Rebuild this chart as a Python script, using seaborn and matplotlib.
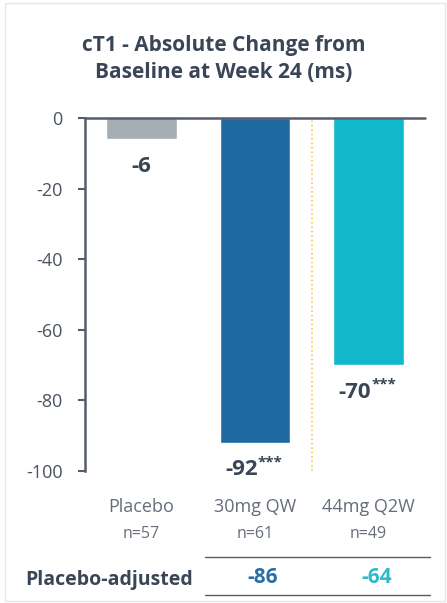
import numpy as np
import pandas as pd
import matplotlib
matplotlib.use('Agg')
import matplotlib.pyplot as plt
import matplotlib.transforms as mtransforms
import seaborn as sns

sns.set_style('white')
plt.rcParams['font.family'] = ['Open Sans', 'DejaVu Sans']

# dados
grupos = ['Placebo', '30mg QW', '44mg Q2W']
n_pacientes = ['n=57', 'n=61', 'n=49']
mudanca = [-6, -92, -70]
estrelas = ['', '***', '***']
ajustado = ['', '-86', '-64']
cores = ['#A5ADB5', '#1E69A0', '#12B8CB']
cores_ajust = ['#3A4556', '#2A6EA6', '#2DBBCB']
yticks = [0, -20, -40, -60, -80, -100]

texto = '#3A4556'
cinza = '#555D6B'

df = pd.DataFrame({'grupo': grupos, 'mudanca': mudanca})

fig = plt.figure(figsize=(4.47, 6.03), dpi=100)
ax = fig.add_axes([85/447, 132/603, 340/447, 353/603])

sns.barplot(data=df, x='grupo', y='mudanca', hue='grupo', palette=cores,
            width=0.625, legend=False, ax=ax, saturation=1)

ax.set_xlim(-0.5, 2.5)
ax.set_ylim(-100, 0)
ax.set_yticks(yticks)
ax.set_yticklabels([str(t) for t in yticks], fontsize=13, color='#4A5260')
ax.tick_params(axis='y', length=5, width=1.5, color=cinza, pad=11, direction='out', left=True)
ax.set_xticks([])
ax.set_xlabel('')
ax.set_ylabel('')
for s in ['top', 'right', 'bottom']:
    ax.spines[s].set_visible(False)
ax.spines['left'].set_visible(True)
ax.spines['left'].set_color(cinza)
ax.spines['left'].set_linewidth(1.8)
ax.axhline(0, color=cinza, lw=1.8, clip_on=False)

# linha pontilhada amarela
ax.vlines(1.5, -100, 0, color='#F0CF45', linestyle=':', lw=1.2)

# rótulos dos valores
for i, v in enumerate(mudanca):
    if estrelas[i]:
        ax.annotate(str(v), (i, v), xytext=(2, -12), textcoords='offset points',
                    ha='right', va='top', fontsize=16, fontweight='bold', color=texto)
        ax.annotate(estrelas[i], (i, v), xytext=(2, -9), textcoords='offset points',
                    ha='left', va='top', fontsize=11, fontweight='bold', color=texto)
    else:
        ax.annotate(str(v), (i, v), xytext=(0, -12), textcoords='offset points',
                    ha='center', va='top', fontsize=16, fontweight='bold', color=texto)

# categorias embaixo
trans = mtransforms.blended_transform_factory(ax.transData, ax.transAxes)
for i, g in enumerate(grupos):
    ax.text(i, -0.103, g, transform=trans, ha='center', va='center',
            fontsize=13, color='#656D78')
    ax.text(i, -0.178, n_pacientes[i], transform=trans, ha='center', va='center',
            fontsize=11.5, color='#656D78')

# linha placebo-ajustado
ax.plot([0.555, 2.54], [-0.243, -0.243], transform=trans, color=cinza, lw=1, clip_on=False)
ax.plot([0.555, 2.54], [-0.35, -0.35], transform=trans, color=cinza, lw=1, clip_on=False)
fig.text(25/447, 1 - 580/603, 'Placebo-adjusted', ha='left', va='center',
         fontsize=14, fontweight='bold', color=texto)
for i, a in enumerate(ajustado):
    if a:
        ax.text(i + 0.07, -0.302, a, transform=trans, ha='center', va='center',
                fontsize=15, fontweight='bold', color=cores_ajust[i])

# título
fig.text(0.5, 1 - 59/603, 'cT1 - Absolute Change from\nBaseline at Week 24 (ms)',
         ha='center', va='center', fontsize=15, fontweight='bold', color=texto,
         linespacing=1.35)

# moldura clara
fig.add_artist(plt.Rectangle((5/447, 2/603), 440/447, 598/603, transform=fig.transFigure,
                             fill=False, edgecolor='#E4E7EA', lw=1, zorder=-1))

fig.savefig('out.png', dpi=100)
